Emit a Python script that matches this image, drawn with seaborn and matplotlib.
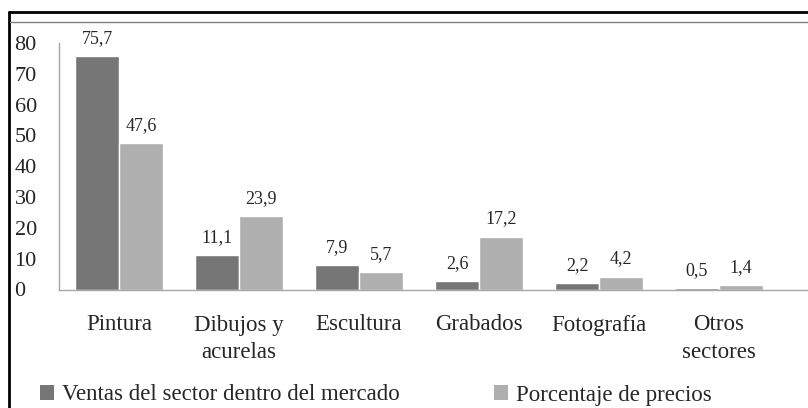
import pandas as pd
import matplotlib.pyplot as plt
from matplotlib.lines import Line2D
from matplotlib.patches import Patch
import seaborn as sns

# data
sectores = ['Pintura', 'Dibujos y\nacurelas', 'Escultura', 'Grabados', 'Fotografía', 'Otros\nsectores']
ventas = [75.7, 11.1, 7.9, 2.6, 2.2, 0.5]
precios = [47.6, 23.9, 5.7, 17.2, 4.2, 1.4]
series = ['Ventas del sector dentro del mercado', 'Porcentaje de precios']
colores = ['#767676', '#afafaf']
yticks = [0, 10, 20, 30, 40, 50, 60, 70, 80]

df = pd.DataFrame({
    'sector': sectores * 2,
    'valor': ventas + precios,
    'serie': [series[0]] * len(sectores) + [series[1]] * len(sectores),
})

sns.set_style('white')
plt.rcParams['font.family'] = ['Liberation Serif', 'DejaVu Serif']

W, H = 808, 408
fig = plt.figure(figsize=(W / 100, H / 100), dpi=100)
ax = fig.add_axes([59 / W, (H - 289.5) / H, (W - 59) / W, (289.5 - 43) / H])

sns.barplot(data=df, x='sector', y='valor', hue='serie', palette=colores,
            width=0.733, gap=0, saturation=1, legend=False, ax=ax)

#value labels with comma decimals
for cont in ax.containers:
    ax.bar_label(cont, labels=[f'{b.get_height():.1f}'.replace('.', ',') for b in cont],
                 padding=6.5, fontsize=13)

ax.set_xlim(-0.5, 5 + 89 / 120)
ax.set_ylim(0, 80)
ax.set_yticks(yticks)
ax.set_xlabel('')
ax.set_ylabel('')
ax.tick_params(axis='y', length=0, pad=32, labelsize=16)
ax.tick_params(axis='x', length=0, pad=18, labelsize=16.5)
for lbl in ax.get_yticklabels():
    lbl.set_ha('left')
for lbl in ax.get_xticklabels():
    lbl.set_linespacing(1.4)

for s in ['top', 'right']:
    ax.spines[s].set_visible(False)
for s in ['left', 'bottom']:
    ax.spines[s].set_color('#a6a6a6')
    ax.spines[s].set_linewidth(1)

#legend at the bottom
handles = [Patch(facecolor=c, edgecolor='none') for c in colores]
fig.legend(handles, series, loc='center left', bbox_to_anchor=(40 / W, (H - 395) / H),
           ncol=2, frameon=False, fontsize=16.5, handlelength=0.61, handleheight=0.65,
           handletextpad=0.35, columnspacing=4.1, borderaxespad=0, borderpad=0)

#outer frame
fig.add_artist(Line2D([9 / W, 9 / W], [0, (H - 12) / H], transform=fig.transFigure,
                      color='black', lw=2))
fig.add_artist(Line2D([9 / W, 1], [(H - 12) / H, (H - 12) / H], transform=fig.transFigure,
                      color='black', lw=2))
fig.add_artist(Line2D([10 / W, 1], [(H - 21.5) / H, (H - 21.5) / H], transform=fig.transFigure,
                      color='#808080', lw=1))

fig.savefig('out.png', dpi=100)
